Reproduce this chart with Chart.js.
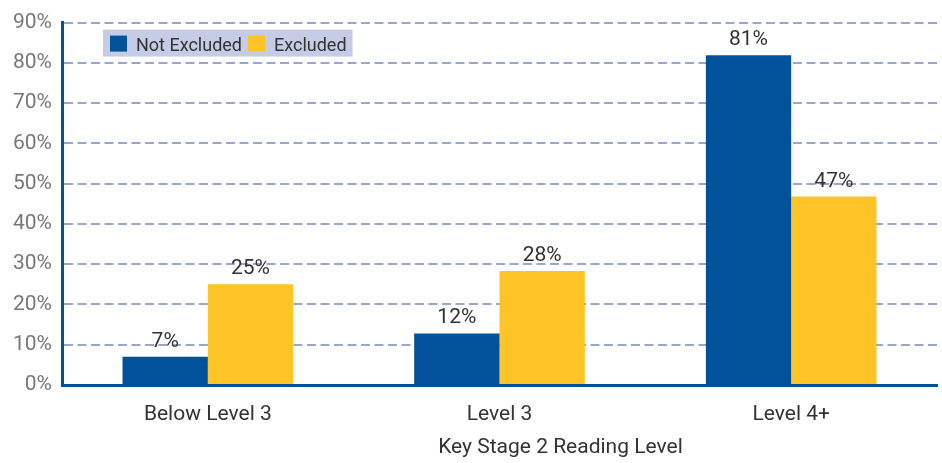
<!DOCTYPE html>
<html>
<head>
<meta charset="utf-8">
<script src="https://cdn.jsdelivr.net/npm/chart.js@4"></script>
<style>
  html, body { margin: 0; padding: 0; background: #fff; }
  #wrap { width: 942px; height: 463px; }
</style>
</head>
<body>
<div id="wrap"><canvas id="c" width="942" height="463"></canvas></div>
<script>
const categories = ['Below Level 3', 'Level 3', 'Level 4+'];
const seriesNames = ['Not Excluded', 'Excluded'];
const notExcluded = [7, 12.8, 81.9];
const excluded = [25, 28.3, 46.8];
const notExcludedLabels = ['7%', '12%', '81%'];
const excludedLabels = ['25%', '28%', '47%'];
const yTicks = [0, 10, 20, 30, 40, 50, 60, 70, 80, 90];
const xTitle = 'Key Stage 2 Reading Level';

const FONT = "Roboto, 'DejaVu Sans Condensed', sans-serif";
const BLUE = '#01529b';
const YELLOW = '#fec324';

const labelPlugin = {
  id: 'valueLabels',
  afterDatasetsDraw(chart) {
    const ctx = chart.ctx;
    ctx.save();
    ctx.font = '21px ' + FONT;
    ctx.fillStyle = '#333333';
    ctx.textAlign = 'center';
    ctx.textBaseline = 'alphabetic';
    chart.data.datasets.forEach((ds, di) => {
      const meta = chart.getDatasetMeta(di);
      meta.data.forEach((bar, i) => {
        ctx.fillText(ds.valueLabels[i], bar.x, bar.y - 10);
      });
    });
    ctx.restore();
  }
};

// Axis title drawn slightly right of the plot centre, as in the reference
const axisTitlePlugin = {
  id: 'offsetAxisTitle',
  afterDraw(chart) {
    const ctx = chart.ctx;
    const ca = chart.chartArea;
    ctx.save();
    ctx.font = '21px ' + FONT;
    ctx.fillStyle = '#333333';
    ctx.textAlign = 'center';
    ctx.textBaseline = 'middle';
    ctx.fillText(xTitle, (ca.left + ca.right) / 2 + 61, chart.height - 15);
    ctx.restore();
  }
};

const legendPlugin = {
  id: 'boxLegend',
  afterDraw(chart) {
    const ctx = chart.ctx;
    const ca = chart.chartArea;
    const x0 = ca.left + 41, y0 = ca.top + 7;
    ctx.save();
    ctx.font = '18px ' + FONT;
    ctx.textBaseline = 'alphabetic';
    let x = x0 + 7;
    const items = chart.data.datasets.map(ds => ({ text: ds.label, color: ds.backgroundColor }));
    let total = 7;
    items.forEach(it => { total += 17 + 9 + ctx.measureText(it.text).width + 6; });
    ctx.fillStyle = '#c5cce6';
    ctx.fillRect(x0, y0, Math.max(239, total), 27);
    items.forEach(it => {
      ctx.fillStyle = it.color;
      ctx.fillRect(x, y0 + 6, 17, 16);
      x += 26;
      ctx.fillStyle = '#333333';
      ctx.fillText(it.text, x, y0 + 21);
      x += ctx.measureText(it.text).width + 6;
    });
    ctx.restore();
  }
};

new Chart(document.getElementById('c'), {
  type: 'bar',
  data: {
    labels: categories,
    datasets: [
      { label: seriesNames[0], data: notExcluded, backgroundColor: BLUE, valueLabels: notExcludedLabels },
      { label: seriesNames[1], data: excluded, backgroundColor: YELLOW, valueLabels: excludedLabels }
    ]
  },
  options: {
    responsive: false,
    animation: false,
    devicePixelRatio: 1,
    layout: { padding: { top: 18, right: 5, left: 0, bottom: 0 } },
    plugins: { legend: { display: false }, tooltip: { enabled: false } },
    datasets: { bar: { barPercentage: 1, categoryPercentage: 0.585 } },
    scales: {
      x: {
        grid: { display: false, drawTicks: false },
        border: { display: true, color: BLUE, width: 3 },
        ticks: { color: '#333333', font: { family: FONT, size: 21 }, padding: 17, maxRotation: 0 },
        title: { display: false },
        afterFit(s) { s.height = 78; }
      },
      y: {
        min: 0, max: 90,
        afterBuildTicks(s) { s.ticks = yTicks.map(v => ({ value: v })); },
        grid: {
          drawTicks: false,
          lineWidth: 2,
          color: c => (c.tick && c.tick.value === 0) ? 'rgba(0,0,0,0)' : '#98a6d3'
        },
        border: { display: true, color: BLUE, width: 3, dash: [9, 4.5] },
        ticks: { color: '#777777', font: { family: FONT, size: 21 }, padding: 10, callback: v => v + '%' },
        afterFit(s) { s.width = 62; }
      }
    }
  },
  plugins: [labelPlugin, legendPlugin, axisTitlePlugin]
});
</script>
</body>
</html>
